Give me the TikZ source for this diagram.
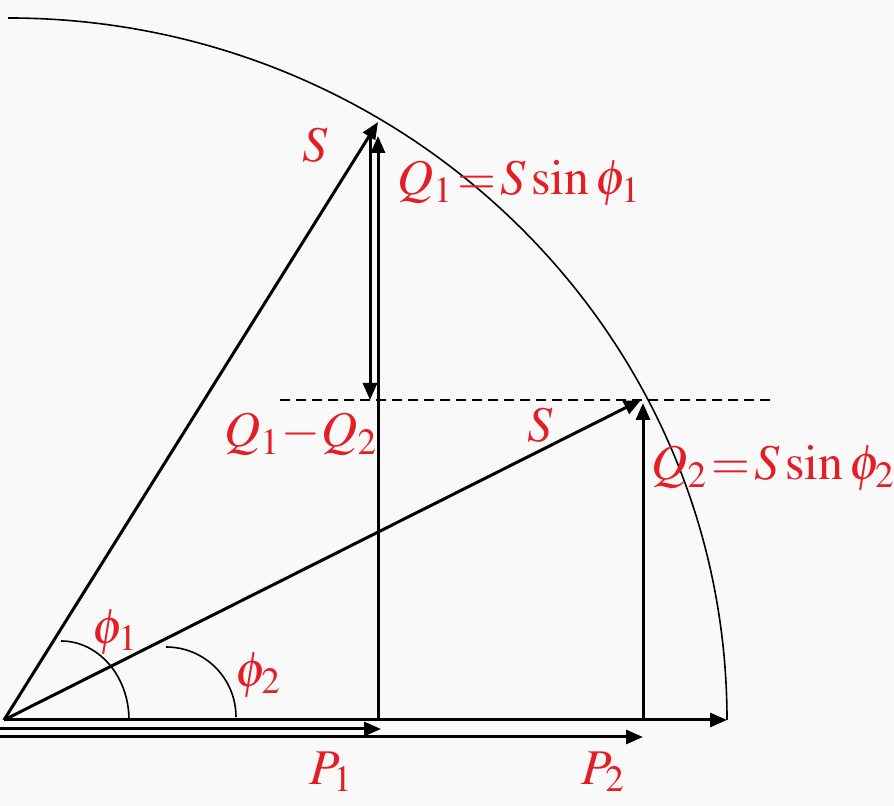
\documentclass[tikz,border=0pt]{standalone}
\usepackage{mathptmx}
\usepackage{tikz}
\usetikzlibrary{arrows.meta}
\usepackage{color}
\definecolor{lblred}{RGB}{228,30,36}
\definecolor{bggray}{RGB}{249,249,249}
\tikzset{
  vec/.style={line width=1.5pt, -{Triangle[length=8.5pt,width=7pt]}},
  rim/.style={line width=0.8pt},
  lbl/.style={text=lblred, inner sep=0pt, font=\fontsize{25}{30}\selectfont},
}
\thickmuskip=1.5mu
\medmuskip=0.5mu

\begin{document}
\begin{tikzpicture}[x=0.5pt, y=0.5pt]
            \fill[bggray] (0,0) rectangle (894,806);
            \useasboundingbox (0,0) rectangle (894,806);

            % points
            \coordinate (O) at (4,86);
            \coordinate (Xend) at (727,86);
            \coordinate (S1) at (378,684);
            \coordinate (S2) at (641,406);
            \coordinate (F1) at (378,86);
            \coordinate (F2) at (643,86);
            \coordinate (T1) at (378,670);
            \coordinate (T2) at (643,403);
            \coordinate (D1) at (370,670);
            \coordinate (D2) at (370,406);
            \coordinate (P1a) at (0,77);
            \coordinate (P1b) at (381,77);
            \coordinate (P2a) at (0,69);
            \coordinate (P2b) at (643,69);
            \coordinate (Ha) at (280,406);
            \coordinate (Hb) at (773,406);

            % circle of S and the angle marks
            \draw[rim] (8,788) arc[start angle=90, end angle=0, x radius=719, y radius=702];
            \draw[rim] (61,165) arc[start angle=90, end angle=0, x radius=68, y radius=79];
            \draw[rim] (166,159) arc[start angle=90, end angle=0, radius=70];

            % level of Q2
            \draw[line width=1.2pt, dash pattern=on 5pt off 3pt] (Ha) -- (Hb);

            % vectors
            \draw[vec] (O) -- (Xend);
            \draw[vec] (O) -- (S1);
            \draw[vec] (O) -- (S2);
            \draw[vec] (F1) -- (T1);
            \draw[vec] (D1) -- (D2);
            \draw[vec] (F2) -- (T2);
            \draw[vec] (P1a) -- (P1b);
            \draw[vec] (P2a) -- (P2b);

            % labels
            \node[lbl] (s1) at (315,661) {$S$};
            \node[lbl, anchor=base west] (q1) at (397,611) {$Q_1=S\sin\phi_1$};
            \node[lbl, anchor=base west] (dq) at (224,359) {$Q_1-Q_2$};
            \node[lbl] (s2) at (540,381) {$S$};
            \node[lbl, anchor=base west] (q2) at (651,326) {$Q_2=S\sin\phi_2$};
            \node[lbl] (f1) at (115,174) {$\phi_1$};
            \node[lbl] (f2) at (258,131) {$\phi_2$};
            \node[lbl] (p1) at (331,34) {$P_1$};
            \node[lbl] (p2) at (603,34) {$P_2$};
\end{tikzpicture}
\end{document}
